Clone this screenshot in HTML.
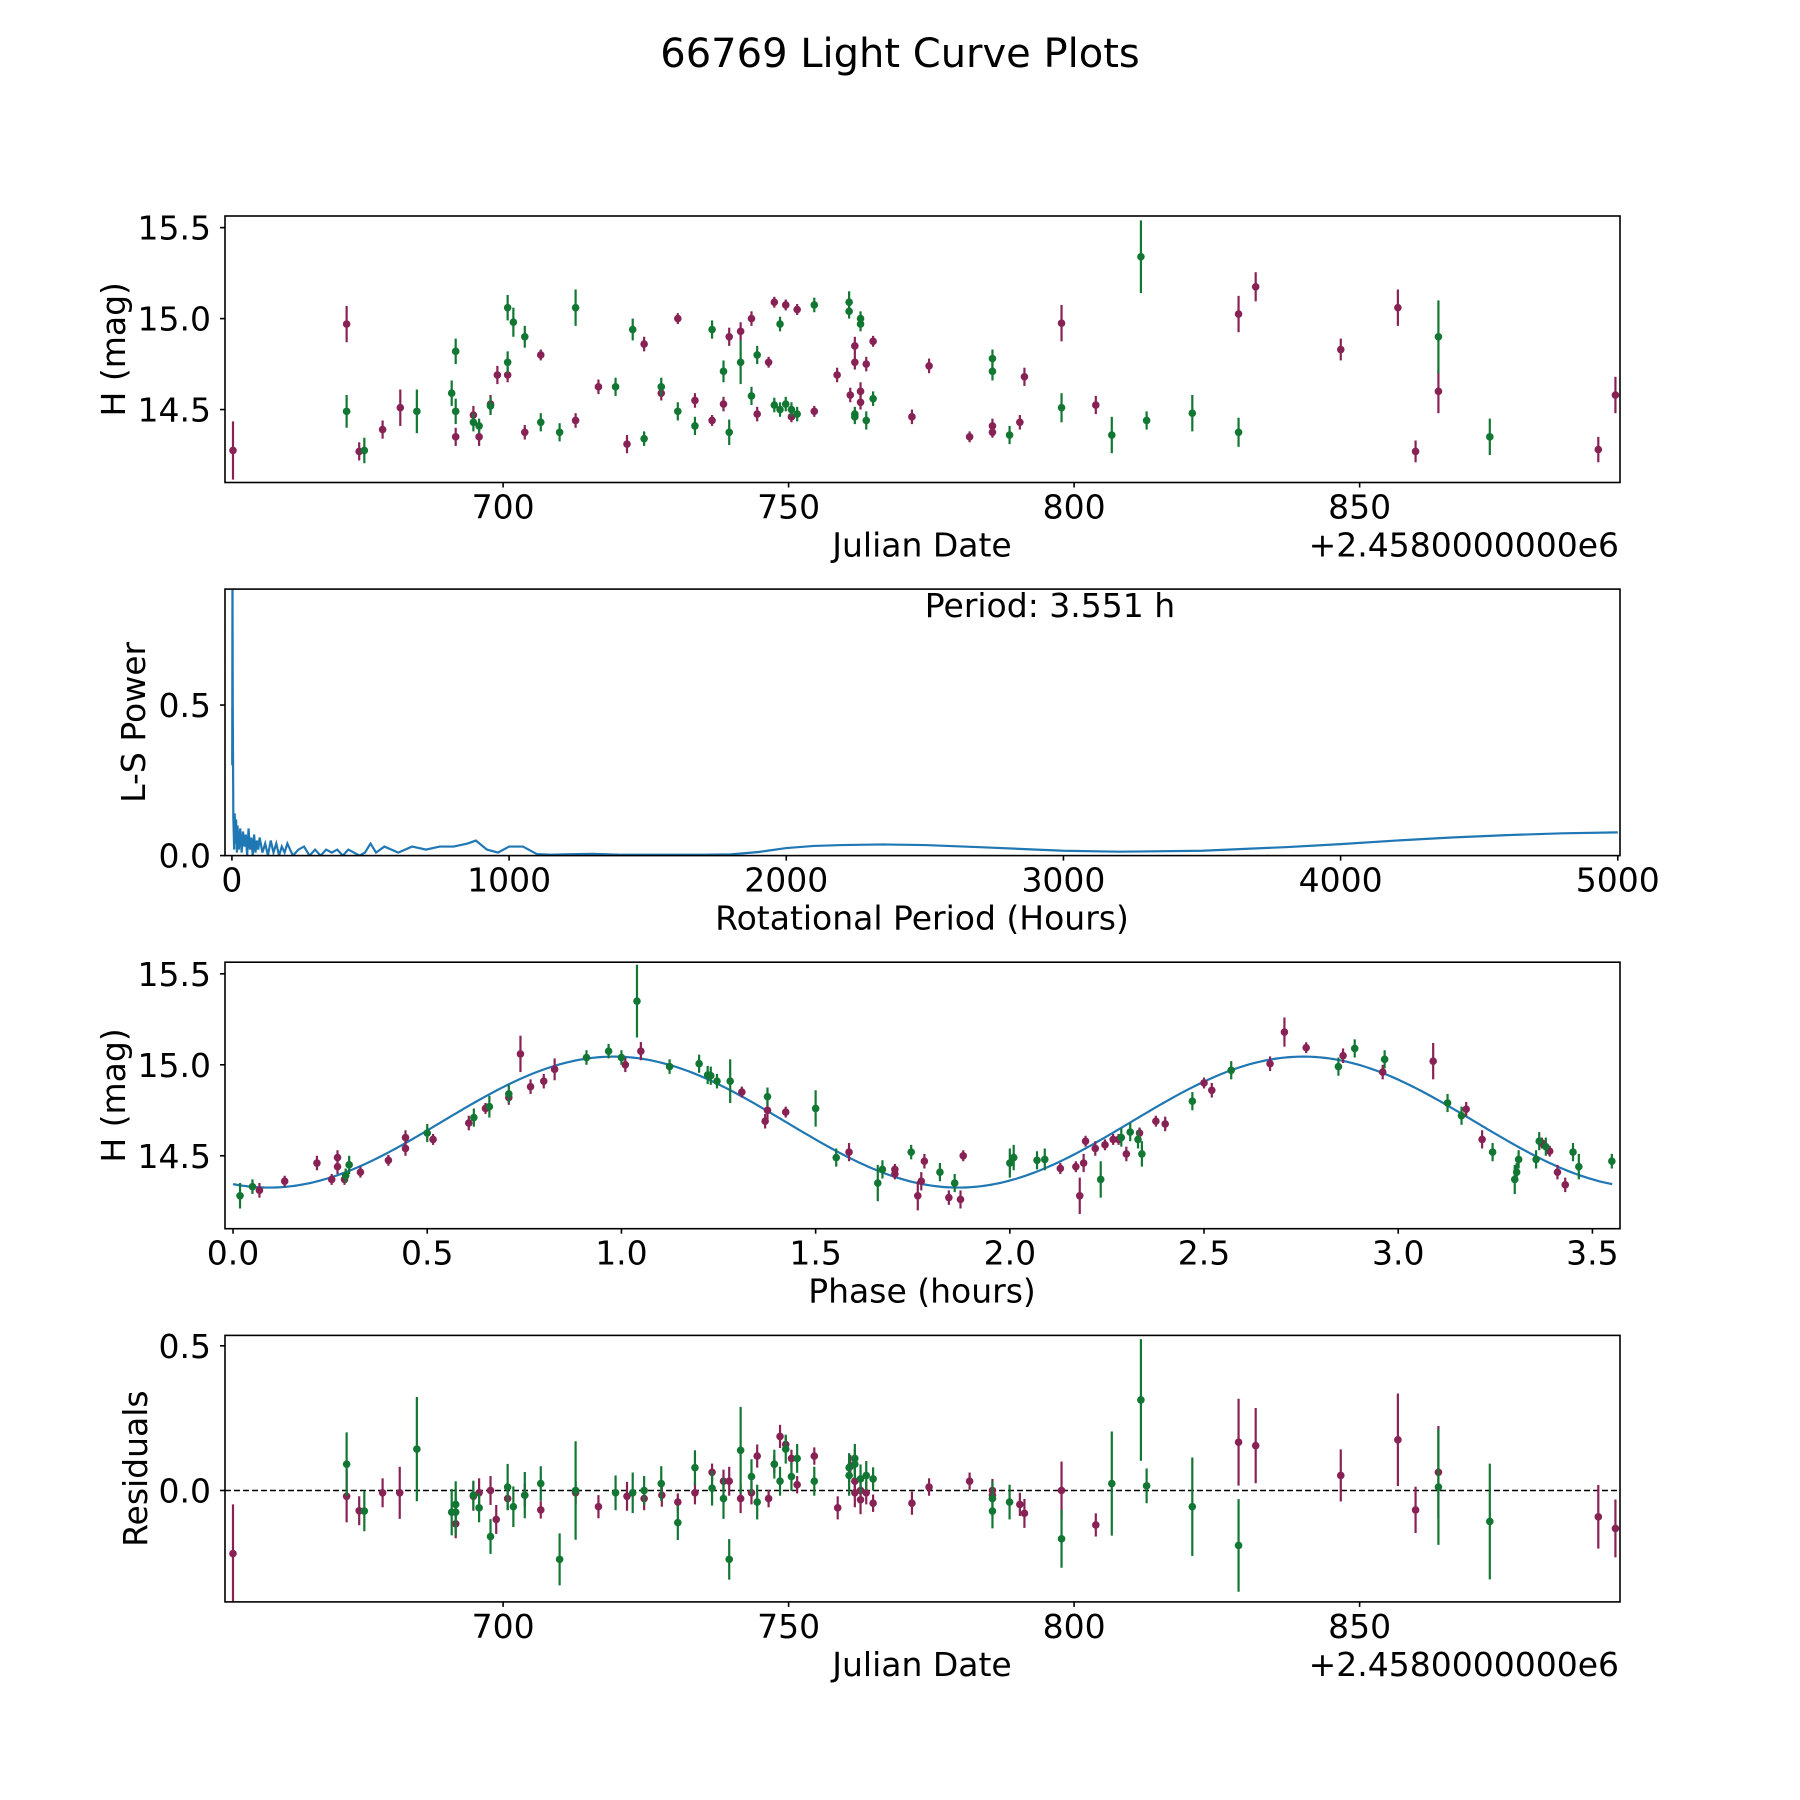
<!DOCTYPE html>
<html><head><meta charset="utf-8"><style>
html,body{margin:0;padding:0;background:#fff;}
svg{display:block;font-family:"DejaVu Sans","Liberation Sans",sans-serif;}
</style></head><body>
<svg id="fig" width="1800" height="1800" viewBox="0 0 1800 1800" xmlns="http://www.w3.org/2000/svg">
<rect width="1800" height="1800" fill="#fff"/>
<text x="900" y="67" font-size="40" text-anchor="middle">66769 Light Curve Plots</text>
</svg>
<script>
// ---------- data: plot 1 (light curve) ----------
const lcJdRed = [652.7,672.6,674.8,678.9,682,691.7,694.8,695.8,697.8,699,700.8,703.8,706.6,712.7,716.7,721.7,724.7,727.7,730.6,733.6,736.6,738.6,739.6,741.6,743.5,744.5,746.5,747.5,749.5,750.5,751.5,754.5,758.5,760.8,761.6,761.6,762.6,762.6,763.6,764.8,771.6,774.6,781.7,785.7,785.7,790.5,791.3,797.8,803.8,828.8,831.8,846.7,856.7,859.8,863.8,891.8,894.8];
const lcMagRed = [14.275,14.97,14.27,14.39,14.51,14.35,14.47,14.35,14.53,14.69,14.69,14.375,14.8,14.44,14.625,14.31,14.86,14.59,15.0,14.55,14.44,14.53,14.9,14.93,15.0,14.475,14.76,15.09,15.075,14.46,15.05,14.49,14.69,14.58,14.85,14.76,14.6,14.54,14.75,14.875,14.46,14.74,14.35,14.41,14.375,14.43,14.68,14.975,14.525,15.025,15.175,14.83,15.06,14.27,14.6,14.28,14.58];
const lcErrRed = [0.16,0.1,0.05,0.05,0.1,0.05,0.05,0.05,0.05,0.05,0.04,0.04,0.03,0.04,0.04,0.05,0.04,0.04,0.03,0.04,0.03,0.04,0.05,0.05,0.04,0.04,0.03,0.03,0.03,0.03,0.03,0.03,0.04,0.04,0.05,0.04,0.05,0.04,0.04,0.03,0.04,0.04,0.03,0.04,0.03,0.04,0.05,0.1,0.05,0.1,0.08,0.06,0.1,0.06,0.12,0.07,0.1];
const lcJdGreen = [672.6,675.7,684.9,691,691.7,691.7,694.8,695.8,697.8,700.8,700.8,701.8,703.8,706.6,709.9,712.7,719.7,722.7,724.7,727.7,730.6,733.6,736.6,738.6,739.6,741.6,743.5,744.5,747.5,748.5,748.5,749.5,750.5,751.5,754.5,760.6,760.6,761.6,761.6,762.6,762.6,763.6,764.8,785.7,785.7,788.7,797.8,806.6,811.7,812.7,820.7,828.8,863.8,872.8];
const lcMagGreen = [14.49,14.275,14.49,14.59,14.82,14.49,14.43,14.41,14.52,15.06,14.76,14.98,14.9,14.43,14.375,15.06,14.625,14.94,14.34,14.625,14.49,14.41,14.94,14.71,14.375,14.76,14.575,14.8,14.525,14.97,14.5,14.53,14.5,14.475,15.075,15.09,15.04,14.475,14.46,15.0,14.97,14.44,14.56,14.78,14.71,14.36,14.51,14.36,15.34,14.44,14.48,14.375,14.9,14.35];
const lcErrGreen = [0.09,0.07,0.12,0.07,0.07,0.07,0.05,0.04,0.05,0.07,0.06,0.08,0.06,0.05,0.05,0.1,0.05,0.06,0.04,0.05,0.05,0.05,0.05,0.06,0.07,0.12,0.05,0.05,0.04,0.04,0.04,0.04,0.04,0.04,0.04,0.06,0.04,0.04,0.04,0.04,0.04,0.05,0.04,0.05,0.05,0.05,0.08,0.1,0.2,0.05,0.1,0.08,0.2,0.1];
// ---------- data: periodogram ----------
const lsPeriods = [1,2,3,5,8,10,12,15,18,20,25,30,35,40,45,50,55,60,65,70,75,80,85,90,95,100,110,120,130,140,150,160,170,180,190,200,220,240,260,280,300,320,340,360,380,400,420,440,460,480,500,520,550,600,650,700,750,800,850,880,920,960,1000,1050,1100,1150,1200,1300,1400,1500,1600,1700,1800,1900,2000,2100,2200,2350,2500,2700,3000,3200,3500,3800,4000,4200,4400,4600,4800,5000];
const lsPower = [0.3,0.95,0.5,0.13,0.02,0.14,0.04,0.12,0.01,0.10,0.02,0.09,0.01,0.08,0.03,0.07,0.0,0.09,0.02,0.06,0.0,0.07,0.01,0.05,0.02,0.06,0.01,0.04,0.0,0.05,0.01,0.04,0.0,0.03,0.01,0.04,0.0,0.02,0.03,0.0,0.02,0.0,0.02,0.01,0.02,0.0,0.02,0.01,0.0,0.01,0.04,0.01,0.03,0.01,0.03,0.02,0.03,0.03,0.04,0.05,0.02,0.01,0.03,0.03,0.005,0.003,0.004,0.006,0.003,0.003,0.003,0.003,0.004,0.012,0.025,0.032,0.035,0.037,0.035,0.028,0.016,0.013,0.016,0.028,0.038,0.05,0.06,0.068,0.074,0.077];
const lsTicksX = [0,1000,2000,3000,4000,5000];
const lsTicksY = [0.0,0.5];
// ---------- data: phased curve ----------
const phRed = [0.068,0.133,0.216,0.254,0.269,0.269,0.287,0.328,0.4,0.444,0.444,0.515,0.607,0.65,0.71,0.74,0.766,0.8,0.828,1.01,1.05,1.31,1.37,1.376,1.423,1.586,1.704,1.704,1.763,1.772,1.78,1.843,1.873,1.88,2.13,2.17,2.18,2.195,2.19,2.22,2.245,2.266,2.28,2.3,2.334,2.376,2.4,2.5,2.52,2.67,2.707,2.763,2.858,2.96,3.09,3.175,3.216,3.37,3.39,3.41,3.43];
const phMagRed = [14.31,14.36,14.46,14.37,14.49,14.44,14.37,14.41,14.475,14.54,14.6,14.59,14.68,14.76,14.82,15.06,14.88,14.91,14.975,15.0,15.075,14.85,14.69,14.75,14.74,14.52,14.4,14.425,14.28,14.36,14.47,14.27,14.26,14.5,14.43,14.44,14.28,14.58,14.46,14.54,14.56,14.59,14.59,14.51,14.625,14.69,14.675,14.9,14.86,15.006,15.18,15.094,15.05,14.96,15.02,14.756,14.59,14.57,14.525,14.41,14.34];
const phErrRed = [0.04,0.03,0.04,0.03,0.04,0.04,0.03,0.03,0.03,0.04,0.04,0.03,0.04,0.03,0.04,0.1,0.04,0.04,0.06,0.04,0.05,0.03,0.04,0.05,0.03,0.05,0.03,0.03,0.08,0.05,0.04,0.04,0.05,0.03,0.03,0.03,0.1,0.03,0.05,0.04,0.03,0.03,0.03,0.04,0.03,0.03,0.04,0.03,0.04,0.04,0.08,0.03,0.04,0.04,0.1,0.04,0.05,0.03,0.03,0.04,0.04];
const phGreen = [0.018,0.05,0.29,0.299,0.5,0.62,0.66,0.71,0.91,0.967,1.0,1.04,1.124,1.2,1.222,1.23,1.246,1.28,1.376,1.5,1.553,1.66,1.672,1.746,1.82,1.858,2.0,2.01,2.07,2.09,2.234,2.287,2.31,2.33,2.34,2.47,2.57,2.846,2.888,2.965,3.127,3.163,3.243,3.3,3.305,3.31,3.355,3.363,3.38,3.45,3.465,3.55];
const phMagGreen = [14.28,14.33,14.39,14.45,14.625,14.71,14.77,14.84,15.04,15.075,15.04,15.35,14.99,15.006,14.944,14.94,14.91,14.91,14.825,14.76,14.49,14.35,14.425,14.52,14.41,14.35,14.46,14.49,14.475,14.48,14.37,14.6,14.63,14.59,14.51,14.8,14.97,14.99,15.09,15.03,14.79,14.72,14.52,14.37,14.41,14.48,14.48,14.58,14.55,14.52,14.44,14.47];
const phErrGreen = [0.07,0.04,0.04,0.05,0.05,0.05,0.06,0.05,0.04,0.04,0.04,0.2,0.04,0.05,0.05,0.05,0.04,0.12,0.05,0.1,0.05,0.1,0.05,0.04,0.05,0.05,0.08,0.07,0.05,0.06,0.1,0.05,0.05,0.05,0.07,0.05,0.05,0.05,0.05,0.05,0.05,0.05,0.05,0.08,0.05,0.05,0.05,0.05,0.05,0.05,0.07,0.04];
const modelParams = [14.685, 0.36, 0.98, 3.551]; // mean, amplitude, peak phase, period
const phTicksX = [0.0,0.5,1.0,1.5,2.0,2.5,3.0,3.5];
const magTicks = [14.5,15.0,15.5];
// ---------- data: residuals ----------
const rsJdRed = [652.7,672.6,674.8,678.9,681.9,691.7,694.8,695.8,697.8,698.8,700.8,703.8,706.6,712.7,716.7,721.7,724.7,727.8,730.6,733.6,736.6,738.6,739.6,741.6,743.5,744.5,746.5,747.5,748.5,749.5,750.5,751.5,754.5,758.6,760.8,761.6,761.6,762.6,762.6,763.6,764.8,771.6,774.6,781.7,785.7,785.7,790.5,791.3,797.8,803.8,828.8,831.8,846.7,856.7,859.8,863.8,891.8,894.8];
const rsValRed = [-0.218,-0.02,-0.07,-0.008,-0.008,-0.115,-0.02,-0.008,0,-0.1,-0.028,-0.016,-0.067,-0.008,-0.056,-0.02,-0.028,-0.016,-0.04,-0.008,0.063,0.032,0.032,-0.028,-0.008,0.119,-0.028,0.091,0.187,0.159,0.111,0.02,0.119,-0.06,0.083,-0.008,0.032,-0.032,0,-0.008,-0.044,-0.044,0.012,0.032,0,-0.016,-0.048,-0.079,0,-0.119,0.167,0.155,0.052,0.175,-0.067,0.063,-0.091,-0.131];
const rsErrRed = [0.17,0.09,0.05,0.05,0.09,0.05,0.05,0.05,0.05,0.05,0.04,0.04,0.03,0.04,0.04,0.05,0.04,0.04,0.03,0.04,0.03,0.04,0.05,0.05,0.04,0.04,0.03,0.03,0.04,0.03,0.03,0.03,0.03,0.04,0.04,0.05,0.04,0.05,0.04,0.04,0.03,0.04,0.03,0.03,0.04,0.03,0.04,0.05,0.1,0.04,0.15,0.13,0.09,0.16,0.08,0.16,0.11,0.1];
const rsJdGreen = [672.6,675.7,684.9,691,691.7,691.7,694.8,695.8,697.8,700.8,701.8,703.8,706.6,709.9,712.7,719.7,722.7,724.7,727.7,730.6,733.6,736.6,738.6,739.6,741.6,743.5,744.5,747.5,748.5,749.5,750.5,751.5,754.5,760.6,760.6,761.6,761.6,762.6,763.6,764.8,785.7,785.7,788.7,797.8,806.6,811.7,812.7,820.7,828.8,863.8,872.8];
const rsValGreen = [0.091,-0.071,0.143,-0.075,-0.048,-0.075,-0.016,-0.06,-0.159,0.012,-0.056,-0.016,0.024,-0.238,0,-0.008,-0.008,0,0.024,-0.111,0.079,0.008,-0.028,-0.238,0.139,0.048,-0.04,0.091,0.032,0.143,0.048,0.111,0.032,0.052,0.079,0.111,0.091,0.04,0.052,0.04,-0.071,-0.028,-0.04,-0.167,0.024,0.313,0.016,-0.056,-0.19,0.012,-0.107];
const rsErrGreen = [0.11,0.07,0.18,0.08,0.08,0.08,0.05,0.05,0.06,0.08,0.07,0.08,0.06,0.09,0.17,0.06,0.07,0.05,0.06,0.06,0.06,0.06,0.07,0.07,0.15,0.06,0.06,0.05,0.05,0.05,0.05,0.05,0.05,0.07,0.05,0.05,0.05,0.05,0.05,0.04,0.06,0.06,0.06,0.1,0.18,0.21,0.06,0.17,0.16,0.2,0.2];
const jdTicks = [700,750,800,850];
const rsTicks = [0.0,0.5];

const NS = 'http://www.w3.org/2000/svg';
const svg = document.getElementById('fig');
const RED = '#882255', GREEN = '#117733', BLUE = '#1f77b4';
const L = 225, R = 1620, H = 266.5;
const TOPS = [216, 589.1, 962.2, 1335.4];
function mk(tag, attrs, parent) {
  const e = document.createElementNS(NS, tag);
  for (const k in attrs) e.setAttribute(k, attrs[k]);
  (parent || svg).appendChild(e);
  return e;
}
function axes(i, xmin, xmax, ymin, ymax, name) {
  const top = TOPS[i], bot = top + H;
  const g = mk('g', {});
  
  
  const cp = mk('clipPath', {id: 'clip' + i}, g);
  mk('rect', {x: L, y: top, width: R - L, height: H}, cp);
  const plot = mk('g', {'clip-path': 'url(#clip' + i + ')'}, g);
  return {
    g, plot, top, bot,
    x: v => L + (v - xmin) / (xmax - xmin) * (R - L),
    y: v => bot - (v - ymin) / (ymax - ymin) * H
  };
}
function frame(ax) {
  const f = mk('rect', {x: L, y: ax.top, width: R - L, height: H, fill: 'none', stroke: '#000', 'stroke-width': 1.6}, ax.g);
  
  
}
function xticks(ax, ticks, fmt) {
  ticks.forEach(t => {
    const px = ax.x(t);
    mk('line', {x1: px, x2: px, y1: ax.bot, y2: ax.bot + 5, stroke: '#000', 'stroke-width': 1.6}, ax.g);
    const tx = mk('text', {x: px, y: ax.bot + 36, 'font-size': 33, 'text-anchor': 'middle'}, ax.g);
    tx.textContent = fmt(t);
    
    
  });
}
function yticks(ax, ticks, fmt) {
  ticks.forEach(t => {
    const py = ax.y(t);
    mk('line', {x1: L - 5, x2: L, y1: py, y2: py, stroke: '#000', 'stroke-width': 1.6}, ax.g);
    const tx = mk('text', {x: L - 14, y: py + 12, 'font-size': 33, 'text-anchor': 'end'}, ax.g);
    tx.textContent = fmt(t);
    
    
  });
}
function label(ax, xtext, ytext, xname, yname, ylx) {
  const xl = mk('text', {x: 922, y: ax.bot + 74, 'font-size': 33, 'text-anchor': 'middle'}, ax.g);
  xl.textContent = xtext;
  
  
  const cy = ax.top + H / 2;
  const yl = mk('text', {x: 0, y: 0, 'font-size': 33, 'text-anchor': 'middle', transform: 'translate(' + ylx + ',' + cy + ') rotate(-90)'}, ax.g);
  yl.textContent = ytext;
  
  
}
function offset(ax) {
  const t = mk('text', {x: 1619, y: ax.bot + 74, 'font-size': 33, 'text-anchor': 'end'}, ax.g);
  t.textContent = '+2.4580000000e6';
  
  
}
function errpts(ax, xs, ys, es, color, nm) {
  xs.forEach((xv, k) => {
    const px = ax.x(xv);
    const ln = mk('line', {x1: px, x2: px, y1: ax.y(ys[k] - es[k]), y2: ax.y(ys[k] + es[k]), stroke: color, 'stroke-width': 2.2}, ax.plot);
    
    
    const c = mk('circle', {cx: px, cy: ax.y(ys[k]), r: 3.8, fill: color}, ax.plot);
    
    
  });
}
const fmt1 = v => v.toFixed(1);
const fmt0 = v => String(v);

// Plot 1
const a1 = axes(0, 651.3, 895.6, 14.099, 15.564, 'light-curve-panel');
errpts(a1, lcJdRed, lcMagRed, lcErrRed, RED, 'red-filter');
errpts(a1, lcJdGreen, lcMagGreen, lcErrGreen, GREEN, 'green-filter');
frame(a1); xticks(a1, jdTicks, fmt0); yticks(a1, magTicks, fmt1);
label(a1, 'Julian Date', 'H (mag)', 'x-axis-title', 'y-axis-title', 125); offset(a1);

// Plot 2
const a2 = axes(1, -25, 5008, 0, 0.885, 'periodogram-panel');
const pd = lsPeriods.map((p, k) => (k ? 'L' : 'M') + a2.x(p).toFixed(2) + ',' + a2.y(lsPower[k]).toFixed(2)).join(' ');
const pl = mk('path', {d: pd, fill: 'none', stroke: BLUE, 'stroke-width': 2.2}, a2.plot);


frame(a2); xticks(a2, lsTicksX, fmt0); yticks(a2, lsTicksY, fmt1);
label(a2, 'Rotational Period (Hours)', 'L-S Power', 'x-axis-title', 'y-axis-title', 145);
const pt = mk('text', {x: 1050, y: 617, 'font-size': 33, 'text-anchor': 'middle'}, a2.g);
pt.textContent = 'Period: 3.551 h';



// Plot 3
const a3 = axes(2, -0.0207, 3.571, 14.099, 15.564, 'phased-curve-panel');
let md = '';
for (let i = 0; i <= 400; i++) {
  const p = i / 400 * modelParams[3];
  const m = modelParams[0] + modelParams[1] * Math.cos(2 * Math.PI * 2 * (p - modelParams[2]) / modelParams[3]);
  md += (i ? 'L' : 'M') + a3.x(p).toFixed(2) + ',' + a3.y(m).toFixed(2) + ' ';
}
const ml = mk('path', {d: md, fill: 'none', stroke: BLUE, 'stroke-width': 2.2}, a3.plot);


errpts(a3, phRed, phMagRed, phErrRed, RED, 'red-phase');
errpts(a3, phGreen, phMagGreen, phErrGreen, GREEN, 'green-phase');
frame(a3); xticks(a3, phTicksX, fmt1); yticks(a3, magTicks, fmt1);
label(a3, 'Phase (hours)', 'H (mag)', 'x-axis-title', 'y-axis-title', 125);

// Plot 4
const a4 = axes(3, 651.3, 895.6, -0.385, 0.536, 'residuals-panel');
const zl = mk('line', {x1: L, x2: R, y1: a4.y(0), y2: a4.y(0), stroke: '#000', 'stroke-width': 1.6, 'stroke-dasharray': '6,3'}, a4.plot);


errpts(a4, rsJdRed, rsValRed, rsErrRed, RED, 'red-residual');
errpts(a4, rsJdGreen, rsValGreen, rsErrGreen, GREEN, 'green-residual');
frame(a4); xticks(a4, jdTicks, fmt0); yticks(a4, rsTicks, fmt1);
label(a4, 'Julian Date', 'Residuals', 'x-axis-title', 'y-axis-title', 147); offset(a4);
</script>
</body></html>
